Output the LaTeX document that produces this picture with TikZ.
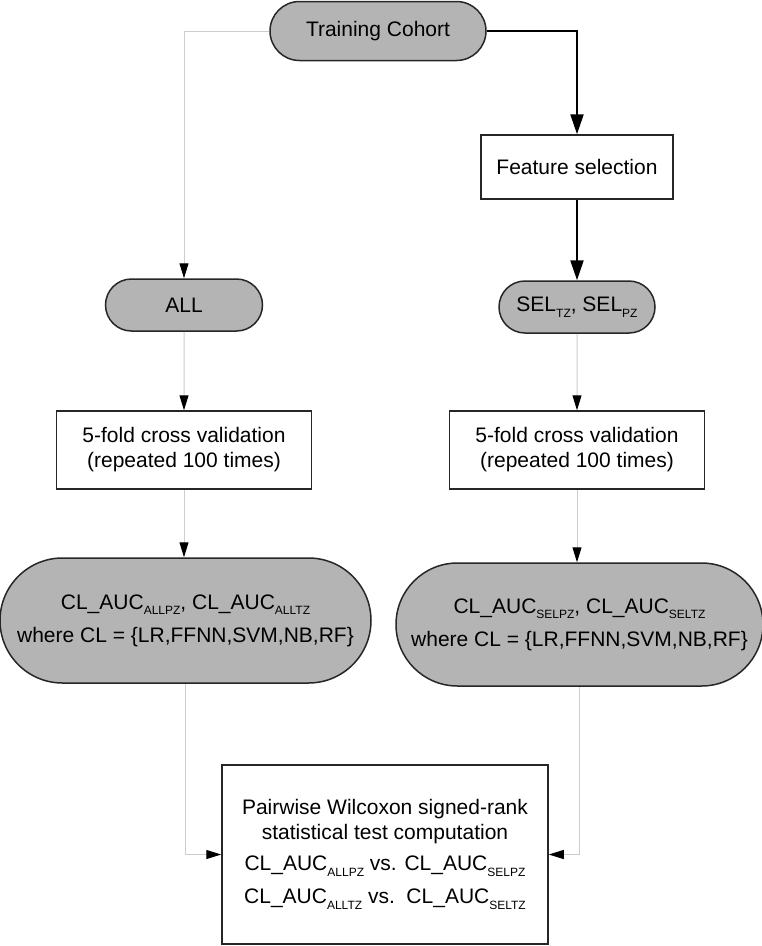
\documentclass[tikz,border=0pt]{standalone}
\usepackage{fontspec}
\setmainfont{Liberation Sans}
\usetikzlibrary{shapes.misc,arrows.meta}
\definecolor{termgray}{RGB}{180,180,180}
\definecolor{linegray}{RGB}{205,205,205}
\newcommand{\lsub}[1]{\raisebox{-0.5ex}{\fontsize{12}{12}\selectfont #1}}
\begin{document}
\begin{tikzpicture}[x=1pt,y=-1pt,
                term/.style={draw=black!85,line width=1.5pt,fill=termgray,rounded rectangle,inner sep=0pt,align=center},
                proc/.style={draw=black!85,line width=1.5pt,fill=white,rectangle,inner sep=0pt,align=center},
                thin/.style={draw=linegray,line width=1pt,-{Triangle[length=15pt,width=9pt,color=black]}},
                thick/.style={draw=black,line width=2.2pt,-{Triangle[length=20pt,width=13pt]}},
                every node/.style={font=\fontsize{21}{25}\selectfont}]
                \useasboundingbox (0,0) rectangle (762,946);
                \node[term,minimum width=216pt,minimum height=59pt](tc) at (378,31){Training Cohort};
                \node[proc,minimum width=192pt,minimum height=64pt](fs) at (577,167){Feature selection};
                \node[term,minimum width=157pt,minimum height=52pt](all) at (184,305){ALL};
                \node[term,minimum width=156pt,minimum height=52pt](sel) at (577,307){SEL\lsub{TZ}, SEL\lsub{PZ}};
                \node[proc,minimum width=255pt,minimum height=78pt](cvall) at (184,450){5-fold cross validation\\(repeated 100 times)};
                \node[proc,minimum width=255pt,minimum height=78pt](cvsel) at (577,450){5-fold cross validation\\(repeated 100 times)};
                \node[term,minimum width=371pt,minimum height=125pt](aucall) at (185.5,620.5){CL\_AUC\lsub{ALLPZ}, CL\_AUC\lsub{ALLTZ}\\[8pt]where CL = \{LR,FFNN,SVM,NB,RF\}};
                \node[term,minimum width=367pt,minimum height=123pt](aucsel) at (579.5,624.5){CL\_AUC\lsub{SELPZ}, CL\_AUC\lsub{SELTZ}\\[8pt]where CL = \{LR,FFNN,SVM,NB,RF\}};
                \node[proc,minimum width=326pt,minimum height=179pt](wil) at (385,854.5){Pairwise Wilcoxon signed-rank\\statistical test computation\\[6pt]CL\_AUC\lsub{ALLPZ} vs. CL\_AUC\lsub{SELPZ}\\[8pt]CL\_AUC\lsub{ALLTZ} vs.\ \ CL\_AUC\lsub{SELTZ}};
                \draw[thin](tc.west) -| (all.north);
                \draw[thick](tc.east) -| (fs.north);
                \draw[thick](fs) -- (sel);
                \draw[thin](all) -- (cvall);
                \draw[thin](sel) -- (cvsel);
                \draw[thin](cvall) -- (cvall |- aucall.north);
                \draw[thin](cvsel) -- (cvsel |- aucsel.north);
                \draw[thin](aucall.south) |- (wil.west);
                \draw[thin](aucsel.south) |- (wil.east);
            \end{tikzpicture}
\end{document}
